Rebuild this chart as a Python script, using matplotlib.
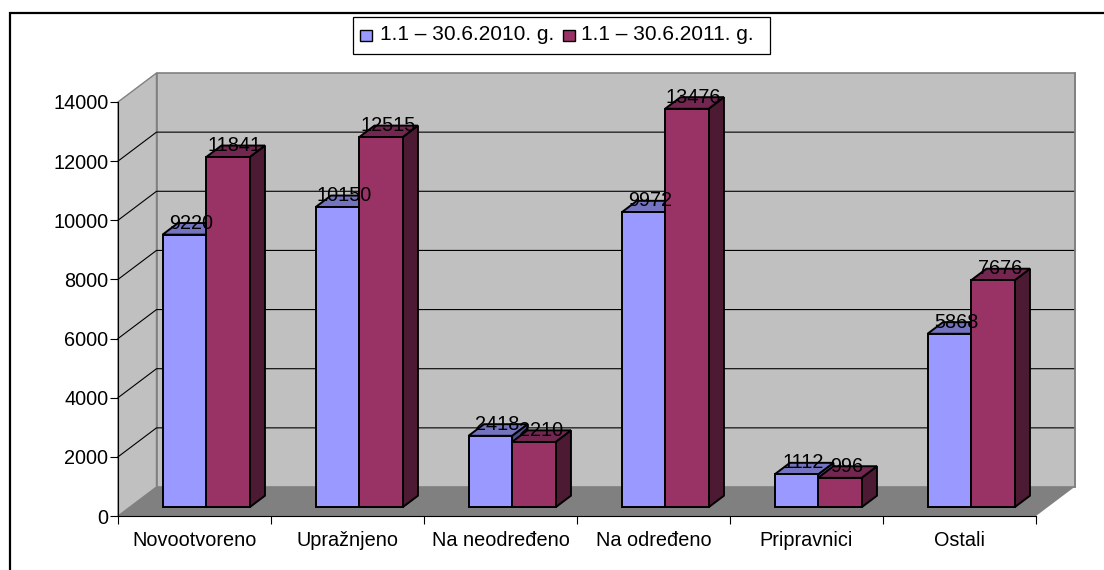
import matplotlib
matplotlib.use("Agg")
from matplotlib import pyplot as plt
from matplotlib.patches import Polygon, Rectangle

categories = ["Novootvoreno", "Upražnjeno", "Na neodređeno", "Na određeno", "Pripravnici", "Ostali"]
values_2010 = [9220, 10150, 2418, 9972, 1112, 5868]
values_2011 = [11841, 12515, 2210, 13476, 996, 7676]
series_names = ["1.1 – 30.6.2010. g.", "1.1 – 30.6.2011. g."]
y_ticks = [0, 2000, 4000, 6000, 8000, 10000, 12000, 14000]

W, H = 1104, 570

# depth of the fake 3d box, in data units
DX = 38.5 / 153
DY = 29 / (414 / 14000)
BAR_W = 43.5 / 153
GAP = 33 / 153

plt.rcParams["font.family"] = ["Liberation Sans", "DejaVu Sans"]

fig = plt.figure(figsize=(W / 100, H / 100), dpi=100)
ax = fig.add_axes([118 / W, 1 - 516 / H, 918 / W, 414 / H])
ax.set_xlim(0, 6)
ax.set_ylim(0, 14000)
ax.patch.set_visible(False)


def add_poly(points, face, edge="none", lw=0.0, z=1):
    ax.add_patch(Polygon(points, closed=True, facecolor=face, edgecolor=edge,
                         linewidth=lw, zorder=z, clip_on=False, joinstyle="miter"))


# walls and floor
add_poly([(DX, DY), (6 + DX, DY), (6 + DX, 14000 + DY), (DX, 14000 + DY)], "#c0c0c0", "#808080", 1.2)
add_poly([(0, 0), (DX, DY), (DX, 14000 + DY), (0, 14000)], "#c0c0c0", "#808080", 1.0)
add_poly([(0, 0), (6, 0), (6 + DX, DY), (DX, DY)], "#808080")

for v in y_ticks[1:-1]:
    ax.plot([0, DX, 6 + DX], [v, v + DY, v + DY], color="black", lw=0.8, zorder=1.5, clip_on=False)
ax.plot([6 + DX, 6 + DX], [DY, 14000 + DY], color="#808080", lw=1.2, zorder=1.6, clip_on=False)


def draw_bar(left, value, face, side, top):
    x0 = left + 0.3 * DX
    x1 = x0 + BAR_W
    y0 = 0.3 * DY
    dx = 0.4 * DX
    dy = 0.4 * DY
    add_poly([(x1, y0), (x1 + dx, y0 + dy), (x1 + dx, y0 + value + dy), (x1, y0 + value)],
             side, "black", 1.4, 3)
    add_poly([(x0, y0 + value), (x1, y0 + value), (x1 + dx, y0 + value + dy), (x0 + dx, y0 + value + dy)],
             top, "black", 1.4, 3)
    ax.bar(x0, value, BAR_W, bottom=y0, align="edge", color=face, edgecolor="black",
           linewidth=1.4, zorder=4, clip_on=False)
    ax.text(x0 + BAR_W / 2 + 0.18 * DX, y0 + value + 0.4 * DY, str(value), ha="center", va="center",
            fontsize=14.3, color="black", zorder=6, clip_on=False)


for i in range(len(categories)):
    draw_bar(i + GAP, values_2010[i], "#9999ff", "#4d4d80", "#7373bf")
    draw_bar(i + GAP + BAR_W, values_2011[i], "#993366", "#4d1a33", "#732650")

# axes
for s in ["top", "right"]:
    ax.spines[s].set_visible(False)
ax.spines["left"].set_color("black")
ax.spines["left"].set_linewidth(0.8)
ax.spines["bottom"].set_color("black")
ax.spines["bottom"].set_linewidth(0.8)
ax.spines["bottom"].set_zorder(2)
ax.set_yticks(y_ticks)
ax.set_xticks(range(7))
ax.set_xticklabels([])
ax.set_xticks([i + 0.5 for i in range(6)], categories, minor=True)
ax.tick_params(axis="x", which="major", length=6, width=0.8, direction="out")
ax.tick_params(axis="x", which="minor", length=0, pad=11, labelsize=14.3)
ax.tick_params(axis="y", length=6, width=0.8, direction="out", pad=1, labelsize=14.3)

# outer frame, left and top lines only, top one runs off the picture
fig.add_artist(plt.Line2D([9.5 / W, 9.5 / W, 1], [0, 1 - 13 / H, 1 - 13 / H],
                          color="black", linewidth=1.6, solid_joinstyle="miter"))

# legend drawn by hand to hit the box position
fig.add_artist(Rectangle((353 / W, 1 - 54 / H), 417 / W, 37 / H, transform=fig.transFigure,
                         facecolor="white", edgecolor="black", linewidth=0.9, zorder=10))
for x_box, x_txt, name, col in [(360, 380, series_names[0], "#9999ff"), (563, 581, series_names[1], "#993366")]:
    fig.add_artist(Rectangle((x_box / W, 1 - 41 / H), 12 / W, 11 / H, transform=fig.transFigure,
                             facecolor=col, edgecolor="black", linewidth=1.0, zorder=11))
    fig.text(x_txt / W, 1 - 35 / H, name, fontsize=15, ha="left", va="center", zorder=12)

fig.savefig("out.png", dpi=100)
